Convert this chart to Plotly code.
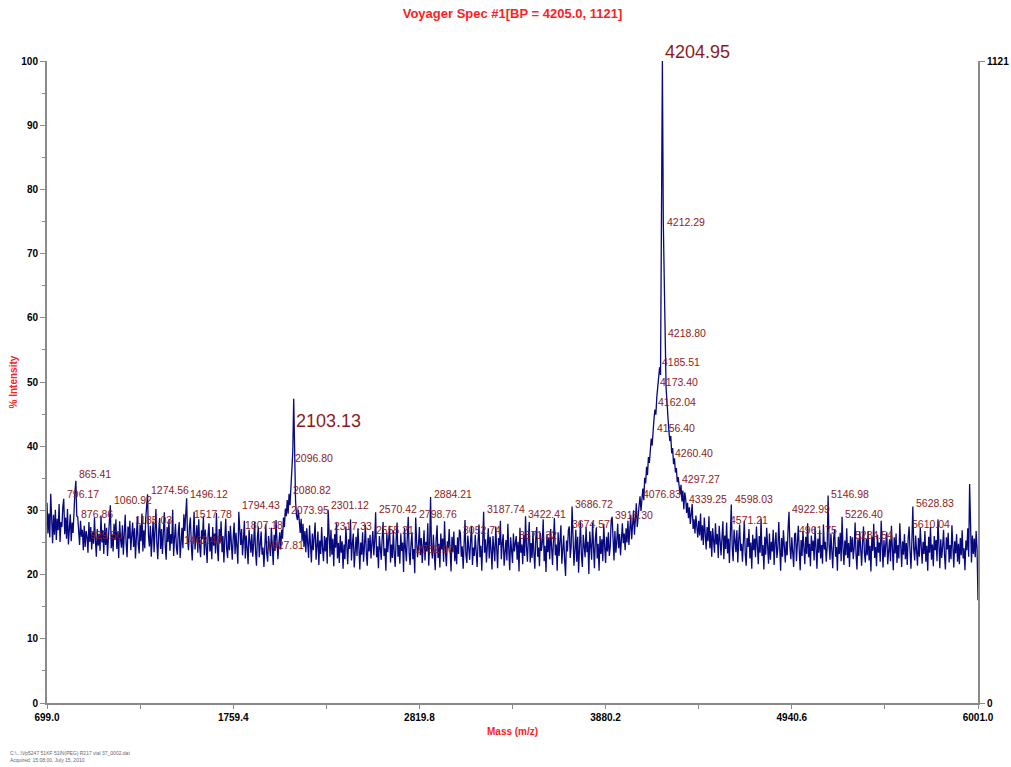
import numpy as np
import plotly.graph_objects as go

# ---------------- data ----------------
mass_start = 699.0
mass_end = 6001.0

intensity = [
    31.2, 26.4, 29.5, 25.8, 32.6, 27.1, 24.9, 29.3, 26.2, 30.1, 25.4, 28.7, 26.9, 31.0, 25.1, 28.2, 27.4, 30.6, 31.8, 26.3,
    28.9, 25.6, 30.2, 24.7, 27.8, 29.4, 25.2, 28.1, 26.5, 30.7, 32.9, 34.6, 29.1, 29.0, 27.3, 24.6, 28.4, 25.9, 27.0, 23.8,
    27.6, 24.3, 26.8, 25.9, 23.4, 28.2, 25.1, 27.4, 23.9, 26.6, 24.8, 28.9, 25.3, 22.8, 27.1, 24.5, 26.3, 23.7, 29.2, 25.0,
    26.9, 23.2, 28.0, 24.6, 27.3, 22.9, 25.8, 29.6, 30.8, 24.1, 26.2, 23.6, 27.9, 25.4, 28.6, 24.0, 26.7, 22.6, 28.3, 25.5,
    24.2, 27.7, 23.1, 26.4, 29.3, 24.8, 22.7, 27.5, 25.6, 28.4, 23.8, 26.0, 28.1, 24.3, 27.2, 22.5, 26.8, 29.0, 24.7, 23.3,
    27.8, 25.2, 29.5, 23.6, 26.9, 24.1, 28.7, 30.4, 32.5, 26.0, 24.4, 27.6, 22.8, 25.9, 28.3, 23.5, 26.5, 30.2, 24.9, 22.4,
    26.7, 28.8, 24.0, 27.1, 23.2, 25.6, 29.7, 24.5, 22.3, 27.4, 25.1, 28.5, 23.7, 26.3, 24.8, 30.1, 22.9, 25.7, 27.9, 24.2,
    23.1, 26.6, 28.2, 22.6, 25.0, 27.3, 24.1, 29.4, 26.8, 30.5, 31.9, 25.4, 23.8, 27.5, 28.9, 24.6, 22.2, 26.1, 29.8, 23.9,
    25.3, 27.7, 23.4, 28.6, 24.4, 22.7, 26.9, 25.5, 29.1, 23.0, 27.0, 24.7, 21.8, 26.2, 28.0, 23.6, 25.9, 22.4, 27.4, 24.5,
    26.4, 23.3, 29.6, 24.2, 22.1, 27.1, 25.0, 28.3, 23.5, 26.0, 21.9, 25.6, 28.7, 24.0, 22.6, 26.8, 23.8, 27.6, 24.9, 22.3,
    25.7, 28.1, 23.2, 26.5, 24.3, 21.7, 29.8, 27.2, 24.6, 27.1, 23.0, 25.4, 28.4, 22.5, 26.1, 24.1, 21.6, 27.0, 25.2, 23.4,
    26.3, 22.8, 24.9, 28.2, 23.6, 21.4, 25.8, 27.5, 22.7, 24.4, 26.7, 23.1, 24.2, 21.2, 25.5, 27.8, 23.3, 22.0, 26.0, 24.6,
    22.9, 27.3, 24.8, 21.5, 26.2, 23.7, 28.5, 25.1, 22.4, 24.7, 26.6, 23.9, 27.0, 25.6, 28.9, 27.4, 30.3, 29.1, 31.6, 29.5,
    32.6, 30.8, 34.2, 37.6, 39.1, 47.4, 36.2, 31.4, 29.2, 28.5, 30.1, 27.3, 26.5, 28.7, 25.2, 27.9, 24.3, 26.8, 23.5, 27.2,
    25.0, 22.6, 27.7, 24.1, 21.9, 26.4, 23.8, 25.9, 28.1, 22.3, 24.6, 26.7, 21.5, 25.3, 23.2, 27.4, 24.0, 22.1, 26.0, 23.6,
    25.8, 21.7, 30.1, 24.4, 22.8, 27.0, 23.1, 25.6, 21.3, 26.3, 24.2, 28.0, 22.5, 24.9, 21.8, 26.1, 23.4, 25.2, 20.9, 24.7,
    22.4, 27.5, 23.9, 21.6, 25.5, 24.0, 28.6, 22.2, 24.8, 26.4, 21.1, 23.7, 25.9, 22.9, 27.2, 24.3, 20.8, 25.0, 23.1, 26.6,
    22.0, 24.5, 27.8, 23.3, 21.4, 25.7, 23.6, 26.2, 22.5, 24.9, 26.8, 23.0, 25.3, 29.7, 22.7, 24.4, 21.0, 26.0, 23.8, 22.3,
    25.6, 28.2, 22.9, 24.1, 20.6, 26.5, 23.5, 25.1, 27.6, 21.9, 24.7, 22.6, 26.9, 23.2, 21.2, 25.4, 28.1, 22.8, 24.6, 21.7,
    26.3, 23.7, 25.0, 20.4, 27.3, 24.2, 22.1, 25.8, 29.0, 23.4, 21.5, 24.8, 26.6, 22.4, 24.0, 20.2, 28.9, 25.2, 22.7, 24.5,
    27.4, 23.0, 25.7, 21.8, 24.3, 26.9, 22.2, 25.1, 23.6, 28.0, 21.4, 24.6, 32.1, 24.0, 22.5, 26.2, 23.3, 20.7, 25.5, 27.7,
    22.6, 24.8, 21.1, 26.4, 23.9, 25.6, 22.0, 28.3, 23.7, 21.3, 25.2, 24.1, 27.1, 22.4, 20.5, 25.9, 23.5, 26.7, 22.1, 24.6,
    21.6, 25.8, 23.2, 27.0, 26.5, 22.8, 24.4, 20.9, 25.6, 28.5, 23.0, 21.8, 26.1, 24.7, 22.3, 25.3, 27.6, 21.5, 24.2, 22.9,
    26.2, 23.6, 21.2, 25.0, 27.8, 22.7, 24.5, 20.6, 26.8, 29.8, 23.4, 25.5, 21.9, 24.1, 27.2, 22.5, 25.9, 23.8, 20.8, 26.0,
    24.3, 22.1, 27.5, 23.9, 21.0, 25.7, 24.6, 28.4, 22.4, 24.9, 26.3, 21.4, 23.7, 25.4, 22.2, 27.9, 24.0, 20.7, 25.8, 23.1,
    21.8, 26.4, 23.6, 24.8, 26.0, 22.3, 25.1, 20.5, 27.3, 23.4, 24.7, 21.6, 26.2, 22.9, 29.1, 24.4, 22.0, 25.5, 28.2, 21.9,
    24.9, 22.6, 26.8, 23.3, 20.9, 25.6, 27.4, 22.8, 24.2, 21.3, 26.5, 23.7, 25.0, 28.6, 22.1, 24.5, 20.4, 26.3, 23.5, 25.8,
    22.4, 27.1, 24.1, 21.5, 25.4, 28.8, 23.0, 24.7, 20.6, 26.6, 22.9, 25.2, 27.7, 21.7, 24.0, 26.1, 22.2, 19.8, 25.3, 23.6,
    26.9, 27.5, 22.6, 24.4, 30.6, 25.7, 21.4, 23.8, 27.0, 22.0, 25.9, 20.3, 24.6, 28.3, 23.1, 21.2, 26.2, 24.3, 22.7, 27.4,
    23.5, 25.1, 20.1, 26.7, 24.0, 22.3, 28.1, 23.9, 21.0, 25.6, 27.3, 22.5, 24.8, 20.6, 26.0, 23.2, 25.5, 22.1, 27.9, 24.4,
    21.8, 25.9, 23.6, 26.6, 22.9, 24.3, 28.5, 29.0, 24.7, 22.2, 26.8, 23.4, 25.2, 27.9, 24.1, 26.3, 23.0, 25.7, 28.0, 24.9,
    26.4, 23.8, 27.2, 25.0, 28.4, 24.6, 26.9, 29.3, 25.5, 27.6, 30.0, 26.2, 28.7, 31.1, 27.4, 29.6, 30.8, 32.2, 29.9, 31.7,
    33.4, 31.6, 35.1, 34.2, 36.8, 35.5, 38.3, 37.4, 39.6, 41.2, 40.1, 42.8, 44.3, 45.7, 44.9, 47.6, 49.2, 50.4, 52.3, 51.1,
    71.5, 100.0, 74.6, 62.1, 57.3, 49.0, 46.2, 44.5, 42.3, 40.8, 41.6, 38.9, 39.7, 37.2, 38.1, 35.9, 36.6, 34.4, 35.2, 33.8,
    32.5, 34.0, 31.4, 33.1, 30.2, 32.8, 31.9, 29.6, 31.2, 28.8, 30.5, 27.9, 29.8, 31.0, 27.1, 28.6, 26.4, 29.2, 27.5, 25.8,
    28.4, 26.1, 29.5, 25.3, 27.7, 24.6, 28.9, 26.0, 23.9, 27.4, 25.2, 29.1, 24.1, 26.8, 22.8, 27.2, 25.5, 23.4, 28.0, 24.7,
    26.3, 22.6, 27.6, 24.9, 23.0, 25.8, 28.3, 22.4, 26.1, 24.0, 28.1, 23.3, 25.6, 21.8, 26.7, 30.9, 24.2, 22.1, 27.0, 25.1,
    23.5, 26.9, 21.9, 25.4, 27.8, 23.7, 24.8, 22.0, 26.5, 28.4, 23.2, 21.4, 25.7, 24.3, 27.1, 22.5, 25.0, 20.9, 26.2, 23.8,
    25.6, 22.7, 27.5, 24.1, 21.6, 26.0, 23.4, 28.7, 22.9, 24.6, 20.8, 25.9, 23.1, 27.3, 24.4, 21.7, 26.4, 22.3, 25.1, 23.6,
    27.0, 21.5, 24.9, 26.6, 22.6, 24.0, 28.2, 23.3, 20.6, 25.7, 22.8, 26.9, 24.5, 21.9, 25.2, 23.0, 27.2, 29.8, 24.3, 22.4,
    25.8, 23.5, 21.2, 26.3, 26.5, 22.1, 24.7, 27.6, 23.8, 20.7, 25.4, 22.9, 26.8, 24.2, 21.6, 25.9, 23.2, 28.0, 22.7, 24.8,
    21.3, 26.1, 23.7, 25.3, 22.2, 27.4, 24.0, 20.9, 25.6, 23.4, 26.9, 22.5, 24.6, 21.7, 27.8, 23.9, 25.1, 22.0, 24.4, 32.3,
    24.7, 22.3, 26.4, 23.6, 21.0, 25.7, 27.1, 22.8, 24.3, 20.6, 25.9, 23.2, 26.5, 22.1, 29.0, 24.1, 21.5, 25.3, 23.0, 27.2,
    22.6, 24.9, 21.2, 26.0, 23.5, 25.8, 22.4, 24.2, 28.1, 23.1, 20.8, 25.5, 22.9, 26.7, 24.0, 21.4, 25.1, 27.5, 23.3, 21.9,
    25.6, 23.0, 26.8, 22.2, 24.5, 20.5, 25.9, 23.7, 27.9, 22.6, 24.3, 21.3, 26.2, 23.4, 25.0, 22.0, 28.4, 23.9, 21.1, 25.4,
    22.7, 24.8, 26.6, 21.6, 23.9, 25.5, 22.1, 27.6, 24.2, 20.7, 25.8, 23.3, 26.4, 21.8, 24.6, 22.5, 28.0, 23.6, 21.2, 25.2,
    23.1, 26.3, 22.4, 24.9, 21.5, 25.6, 27.5, 23.7, 20.9, 25.3, 30.6, 24.0, 22.2, 26.1, 23.5, 21.4, 25.7, 22.8, 27.3, 24.4,
    21.7, 25.1, 23.2, 26.8, 22.0, 24.5, 20.6, 25.9, 23.4, 27.4, 22.3, 24.7, 21.3, 26.0, 23.8, 25.4, 22.1, 28.6, 23.6, 21.0,
    25.5, 22.6, 24.3, 27.0, 23.1, 20.8, 25.8, 23.9, 26.5, 21.9, 24.6, 22.4, 27.7, 23.5, 21.1, 25.2, 23.3, 26.3, 22.0, 24.8,
    21.6, 25.7, 23.0, 26.9, 22.5, 24.1, 20.7, 25.3, 23.8, 27.2, 22.8, 34.1, 24.4, 21.9, 26.1, 23.2, 25.6, 22.7, 26.8, 23.9,
    16.0,
]

# labelled peaks (m/z) and the intensity level where each label sits
peak_mass = [796.17, 865.41, 876.86, 929.50, 1060.92, 1185.03, 1274.56, 1462.43, 1496.12,
             1517.78, 1794.43, 1807.18, 1927.81, 2073.95, 2080.82, 2096.80, 2301.12, 2317.33,
             2555.21, 2570.42, 2782.90, 2798.76, 2884.21, 3052.74, 3187.74, 3371.32, 3422.41,
             3674.57, 3686.72, 3915.30, 4076.83, 4156.40, 4162.04, 4173.40, 4185.51, 4212.29,
             4218.80, 4260.40, 4297.27, 4339.25, 4571.21, 4598.03, 4922.99, 4961.75, 5146.98,
             5226.40, 5284.54, 5610.04, 5628.83]
peak_level = [32.6, 35.7, 29.4, 26.2, 31.6, 28.5, 33.2, 25.4, 32.6,
              29.4, 30.8, 27.7, 24.6, 30.1, 33.2, 38.2, 30.8, 27.6,
              26.9, 30.2, 24.0, 29.4, 32.6, 26.9, 30.2, 26.2, 29.4,
              27.9, 31.0, 29.3, 32.6, 42.8, 46.9, 50.0, 53.1, 75.0,
              57.6, 38.9, 34.9, 31.8, 28.5, 31.8, 30.2, 26.9, 32.6,
              29.4, 26.2, 27.9, 31.2]

major_mass = [2103.13, 4204.95]
major_level = [43.9, 101.4]

x_tick_vals = [699.0, 1759.4, 2819.8, 3880.2, 4940.6, 6001.0]
x_minor_vals = [1229.2, 2289.6, 3350.0, 4410.4, 5470.8]
right_axis_max = 1121

title_text = "Voyager Spec #1[BP = 4205.0, 1121]"
footnote_lines = ["C:\\...\\Vp5247 51KF 51IN(PEG) R217 vial 37_0002.dat",
                  "Acquired: 15:08:00, July 15, 2010"]

# ---------------- figure ----------------
mass = np.linspace(mass_start, mass_end, len(intensity))

AXIS_GRAY = "#8a8a8a"
LABEL_RED = "#8e1b1b"
TITLE_RED = "#ff2020"
FONT = "Liberation Sans, Arial, sans-serif"

fig = go.Figure()
fig.add_trace(go.Scatter(
    x=mass, y=intensity, mode="lines",
    line=dict(color="#08087f", width=1.3),
    hoverinfo="skip", showlegend=False,
))
# invisible trace so the right-hand axis is drawn
fig.add_trace(go.Scatter(
    x=[mass_start], y=[0], yaxis="y2", mode="markers",
    marker=dict(opacity=0), hoverinfo="skip", showlegend=False,
))

annotations = []
for m, lv in zip(peak_mass, peak_level):
    annotations.append(dict(
        x=m, y=lv, xref="x", yref="y", text=f"{m:.2f}", showarrow=False,
        xanchor="left", yanchor="middle", xshift=1,
        font=dict(family=FONT, size=10.5, color=LABEL_RED),
    ))
for m, lv in zip(major_mass, major_level):
    annotations.append(dict(
        x=m, y=lv / 100.0, xref="x", yref="paper", text=f"{m:.2f}", showarrow=False,
        xanchor="left", yanchor="middle", xshift=0,
        font=dict(family=FONT, size=18, color=LABEL_RED),
    ))

# axis titles
annotations.append(dict(
    x=0.5, y=-0.044, xref="paper", yref="paper", text="<b>Mass (m/z)</b>",
    showarrow=False, xanchor="center", yanchor="middle",
    font=dict(family=FONT, size=10, color=TITLE_RED),
))
annotations.append(dict(
    x=-0.036, y=0.5, xref="paper", yref="paper", text="<b>% Intensity</b>",
    showarrow=False, xanchor="center", yanchor="middle", textangle=-90,
    font=dict(family=FONT, size=10, color=TITLE_RED),
))
# footnote
annotations.append(dict(
    x=(8 - 47) / 931, y=-(756 - 703) / 642, xref="paper", yref="paper",
    text="<br>".join(footnote_lines),
    showarrow=False, xanchor="left", yanchor="middle", align="left",
    font=dict(family=FONT, size=5, color="#666666"),
))

fig.update_layout(
    width=1011, height=767,
    margin=dict(l=47, r=33, t=61, b=64, pad=0, autoexpand=False),
    paper_bgcolor="white", plot_bgcolor="white",
    title=dict(
        text=f"<b>{title_text}</b>", x=0.5, xref="paper", xanchor="center",
        y=1 - 13 / 767, yref="container", yanchor="middle",
        font=dict(family=FONT, size=13, color=TITLE_RED),
    ),
    xaxis=dict(
        range=[mass_start, mass_end], showgrid=False, zeroline=False,
        automargin=False,
        showline=True, linecolor=AXIS_GRAY, linewidth=2,
        ticks="outside", ticklen=4, tickwidth=1, tickcolor=AXIS_GRAY,
        tickvals=x_tick_vals, ticktext=[f"{v:.1f}" for v in x_tick_vals],
        tickfont=dict(family=FONT, size=10, color="black", weight="bold"),
        minor=dict(tickvals=x_minor_vals, ticks="outside", ticklen=4,
                   tickcolor=AXIS_GRAY, showgrid=False),
    ),
    yaxis=dict(
        range=[0, 100], showgrid=False, zeroline=False,
        automargin=False,
        showline=True, linecolor=AXIS_GRAY, linewidth=2,
        ticks="outside", ticklen=5, tickwidth=1, tickcolor=AXIS_GRAY,
        tick0=0, dtick=10,
        tickfont=dict(family=FONT, size=10, color="black", weight="bold"),
        minor=dict(dtick=5, tick0=0, ticks="outside", ticklen=3,
                   tickcolor=AXIS_GRAY, showgrid=False),
    ),
    yaxis2=dict(
        range=[0, right_axis_max], overlaying="y", side="right", anchor="x",
        automargin=False,
        showgrid=False, zeroline=False,
        showline=True, linecolor=AXIS_GRAY, linewidth=2,
        ticks="outside", ticklen=5, tickwidth=1, tickcolor=AXIS_GRAY,
        tickvals=[0, right_axis_max], ticktext=["0", str(right_axis_max)],
        tickfont=dict(family=FONT, size=10, color="black", weight="bold"),
    ),
    annotations=annotations,
    showlegend=False,
)

fig.write_html("out.html", config={"displayModeBar": False})
